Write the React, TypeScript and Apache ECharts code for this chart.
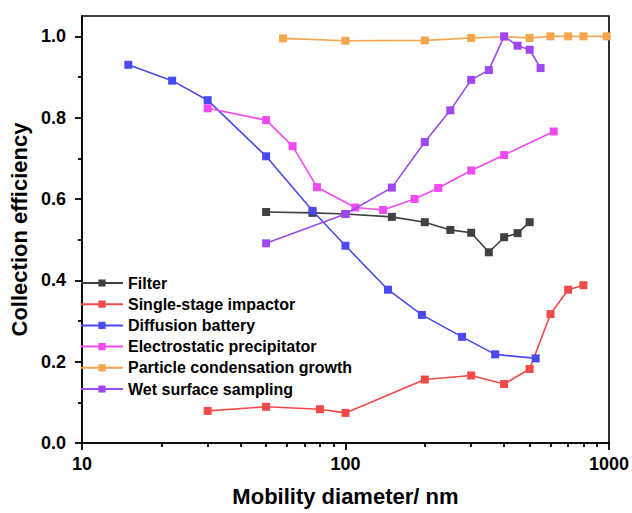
import React, { useEffect, useRef } from "react";
import * as echarts from "echarts";

// Mobility diameter (nm) and collection efficiency per method
const filterX = [50, 75, 100, 150, 200, 250, 300, 350, 400, 450, 500];
const filterY = [0.568, 0.566, 0.563, 0.556, 0.543, 0.524, 0.517, 0.469, 0.506, 0.516, 0.543];

const impactorX = [30, 50, 80, 100, 200, 300, 400, 500, 600, 700, 800];
const impactorY = [0.079, 0.089, 0.083, 0.074, 0.156, 0.166, 0.145, 0.182, 0.317, 0.377, 0.388];

const diffusionX = [15, 22, 30, 50, 75, 100, 145, 195, 277, 370, 527];
const diffusionY = [0.93, 0.891, 0.843, 0.705, 0.571, 0.485, 0.377, 0.315, 0.261, 0.218, 0.208];

const espX = [30, 50, 63, 78, 109, 139, 183, 225, 300, 400, 617];
const espY = [0.823, 0.794, 0.73, 0.629, 0.579, 0.573, 0.6, 0.627, 0.67, 0.708, 0.766];

const pcgX = [58, 100, 200, 300, 400, 500, 600, 700, 800, 980];
const pcgY = [0.995, 0.989, 0.99, 0.996, 0.999, 0.996, 1.0, 1.0, 1.0, 1.0];

const wetX = [50, 100, 150, 200, 250, 300, 350, 400, 450, 500, 550];
const wetY = [0.491, 0.563, 0.628, 0.74, 0.818, 0.893, 0.917, 1.0, 0.977, 0.967, 0.922];

const seriesNames = [
  "Filter",
  "Single-stage impactor",
  "Diffusion battery",
  "Electrostatic precipitator",
  "Particle condensation growth",
  "Wet surface sampling",
];
const seriesColors = ["#404040", "#F04A4A", "#4A4AF0", "#F04AF0", "#F5A64C", "#9E48F0"];

const yMajorTicks = [0, 0.2, 0.4, 0.6, 0.8, 1.0];
const yMinorTicks = [0.1, 0.3, 0.5, 0.7, 0.9];
const xMajorTicks = [10, 100, 1000];
const xMinorTicks = [20, 30, 40, 50, 60, 70, 80, 90, 200, 300, 400, 500, 600, 700, 800, 900];

const FONT = "'Liberation Sans', Arial, sans-serif";

const zip = (xs: number[], ys: number[]) => xs.map((x, i) => [x, ys[i]]);

export default function App() {
  const ref = useRef<HTMLDivElement>(null);
  useEffect(() => {
    if (!ref.current) return;
    const chart = echarts.init(ref.current, undefined, { renderer: "svg" });
    const allData = [
      zip(filterX, filterY),
      zip(impactorX, impactorY),
      zip(diffusionX, diffusionY),
      zip(espX, espY),
      zip(pcgX, pcgY),
      zip(wetX, wetY),
    ];
    const tickLine = { color: "#000", width: 1.8 };
    chart.setOption({
      animation: false,
      backgroundColor: "#fff",
      textStyle: { fontFamily: FONT },
      grid: {
        left: 80,
        right: 21,
        top: 16,
        bottom: 70,
        show: true,
        borderColor: "#000",
        borderWidth: 1.6,
      },
      legend: {
        orient: "vertical",
        left: 80,
        top: 275,
        itemWidth: 42,
        itemHeight: 9,
        itemGap: 5.2,
        padding: 0,
        textStyle: { fontFamily: FONT, fontSize: 16, fontWeight: "bold", color: "#000" },
        data: seriesNames,
      },
      xAxis: [
        {
          type: "log",
          logBase: 10,
          min: 10,
          max: 1000,
          position: "bottom",
          name: "Mobility diameter/ nm",
          nameLocation: "middle",
          nameGap: 42,
          nameTextStyle: { fontFamily: FONT, fontSize: 22, fontWeight: "bold", color: "#000" },
          axisLine: { show: true, lineStyle: { color: "#000", width: 1.6 } },
          axisTick: { show: true, inside: false, length: 7, customValues: xMajorTicks, lineStyle: tickLine },
          axisLabel: {
            customValues: xMajorTicks,
            fontFamily: FONT,
            fontSize: 18,
            fontWeight: "bold",
            color: "#000",
            margin: 12,
            formatter: (v: number) => String(Math.round(v)),
          },
          splitLine: { show: false },
          minorTick: { show: false },
        },
        {
          type: "log",
          logBase: 10,
          min: 10,
          max: 1000,
          position: "bottom",
          axisLine: { show: false },
          axisTick: {
            show: true,
            inside: false,
            length: 4,
            customValues: xMinorTicks,
            lineStyle: tickLine,
          },
          axisLabel: { show: false },
          splitLine: { show: false },
        },
      ],
      yAxis: [
        {
          type: "value",
          min: 0,
          max: 1.05,
          interval: 0.2,
          name: "Collection efficiency",
          nameLocation: "middle",
          nameGap: 46,
          nameTextStyle: { fontFamily: FONT, fontSize: 22, fontWeight: "bold", color: "#000" },
          axisLine: { show: true, lineStyle: { color: "#000", width: 1.6 } },
          axisTick: {
            show: true,
            inside: false,
            length: 7,
            customValues: yMajorTicks,
            lineStyle: tickLine,
          },
          axisLabel: {
            customValues: yMajorTicks,
            fontFamily: FONT,
            fontSize: 18,
            fontWeight: "bold",
            color: "#000",
            margin: 16,
            formatter: (v: number) => v.toFixed(1),
          },
          splitLine: { show: false },
        },
        {
          type: "value",
          min: 0,
          max: 1.05,
          interval: 0.2,
          position: "left",
          axisLine: { show: false },
          axisTick: {
            show: true,
            inside: false,
            length: 4,
            customValues: yMinorTicks,
            lineStyle: tickLine,
          },
          axisLabel: { show: false },
          splitLine: { show: false },
        },
      ],
      series: seriesNames.map((name, i) => ({
        name,
        type: "line",
        xAxisIndex: 0,
        yAxisIndex: 0,
        data: allData[i],
        symbol: "rect",
        symbolSize: 8,
        color: seriesColors[i],
        itemStyle: { color: seriesColors[i] },
        lineStyle: { color: seriesColors[i], width: 1.6 },
        z: 2 + i,
      })),
    });
    return () => chart.dispose();
  }, []);
  return (
    <div
      ref={ref}
      style={{ position: "fixed", left: 0, top: 0, width: 632, height: 513, background: "#fff" }}
    />
  );
}
